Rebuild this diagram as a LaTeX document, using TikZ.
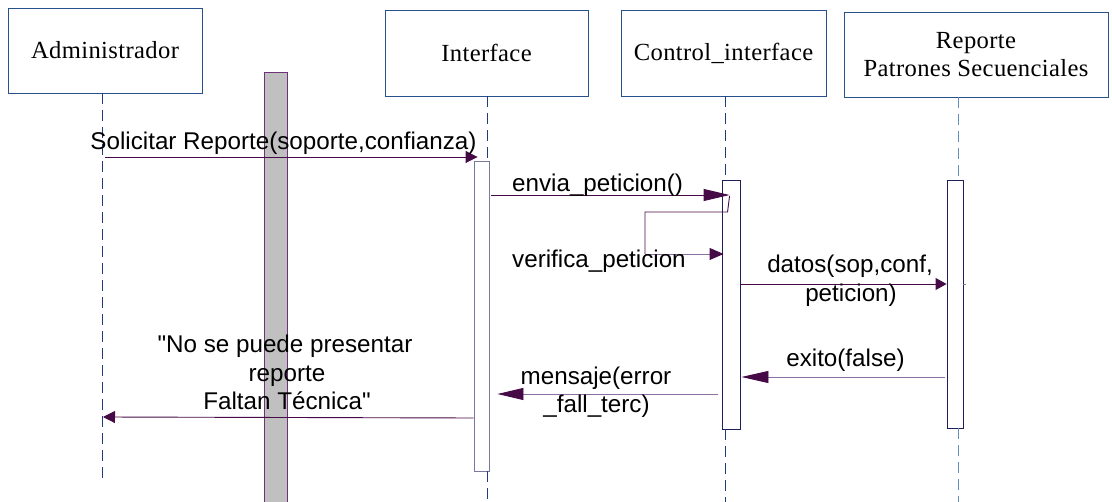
\documentclass[tikz,border=0pt]{standalone}
\usepackage{fontspec}
\setmainfont{Liberation Serif}[LetterSpace=1.5]
\setsansfont{Liberation Sans}[Ligatures=TeXOff]
\usetikzlibrary{arrows.meta,calc}
\definecolor{boxblue}{RGB}{40,80,140}
\definecolor{lifeblue}{RGB}{30,60,120}
\definecolor{lifelight}{RGB}{100,140,190}
\definecolor{msg}{RGB}{70,10,70}
\definecolor{msglight}{RGB}{140,110,160}
\definecolor{actA}{RGB}{120,120,160}
\definecolor{actB}{RGB}{30,30,90}
\definecolor{barfill}{RGB}{192,192,192}
\definecolor{barline}{RGB}{110,50,120}
\tikzset{
  obj/.style={draw=boxblue, line width=0.8pt, fill=white, inner sep=0pt,
    font=\fontsize{24.6}{28}\selectfont, align=center},
  act/.style={draw=#1, line width=0.9pt, fill=white, inner sep=0pt},
  life/.style={draw=lifeblue, line width=0.8pt, dash pattern=on 11pt off 6pt},
  msgline/.style={draw=#1, line width=0.9pt},
  msgline/.default=msg,
  lbl/.style={font=\sffamily\fontsize{24.2}{28}\selectfont, inner sep=0pt},
  grey bar/.style={draw=barline, fill=barfill, line width=0.8pt},
  head/.style={-{Triangle[length=#1, width=12pt, color=msg]}}
}
\begin{document}
\begin{tikzpicture}[x=1pt,y=-1pt]
\useasboundingbox (0,0) rectangle (1112,502);

% grey bar (background)
\draw[grey bar] (264,72) rectangle (287,504);

% object boxes
\node[obj, minimum width=194pt, minimum height=85pt] (adm) at (105,50.5) {Administrador};
\node[obj, minimum width=203pt, minimum height=86pt] (ifc) at (486.5,53) {Interface};
\node[obj, minimum width=205pt, minimum height=86pt] (ctl) at (723.5,53) {Control\_interface};
\node[obj, minimum width=264pt, minimum height=85pt] (rep) at (976,54.5) {Reporte\\Patrones Secuenciales};

% lifeline x positions
\coordinate (admx) at (102,0);
\coordinate (ifcx) at (487,0);
\coordinate (ctlx) at (725.5,0);
\coordinate (repx) at (958,0);

% activation boxes
\node[act=actA, minimum width=15pt, minimum height=310pt] (ia) at (481.5,316) {};
\node[act=actB, minimum width=18pt, minimum height=249pt] (ca) at (731,304.5) {};
\node[act=actB, minimum width=16pt, minimum height=248pt] (ra) at (955,304) {};

% lifelines
\draw[life] (adm.south -| admx) -- (admx |- 0,483);
\draw[life] (ifc.south -| ifcx) -- (ia.north -| ifcx);
\draw[life] (ia.south -| ifcx) -- (ifcx |- 0,504);
\draw[life] (ctl.south -| ctlx) -- (ca.north -| ctlx);
\draw[life] (ca.south -| ctlx) -- (ctlx |- 0,504);
\draw[life, draw=lifelight] (rep.south -| repx) -- (ra.north -| repx);
\draw[life, draw=lifelight] (ra.south -| repx) -- (repx |- 0,504);

% messages
\draw[msgline, head=12pt] ($(admx |- 0,157)+(3,0)$) -- ($(ia.west |- 0,157)+(4,0)$);
\node[lbl, anchor=base] (m1) at (283.5,150) {Solicitar Reporte(soporte,confianza)};

\draw[msgline, head=26pt] ($(ia.east |- 0,195)+(2,0)$) -- ($(ca.west |- 0,195)+(8,0)$);
\node[lbl, anchor=base west] (m2) at (512,192) {envia\_peticion()};

\draw[msgline=msg] ($(ca.west |- 0,196)+(8,0)$) -- ($(ca.west |- 0,212)+(6,0)$) -- (645,212)
  -- (645,254);
\draw[msgline=msglight, head=14pt] (645,254) -- ($(ca.west |- 0,254)+(2,0)$);
\node[lbl, anchor=base west] (m3) at (512,268) {verifica\_peticion};

\draw[msgline, head=11pt] (ca.east |- 0,284) -- (ra.west |- 0,284);
\draw[msgline=msglight] (ra.east |- 0,284) -- ($(ra.east |- 0,284)+(3,0)$);
\node[lbl, anchor=base] (m4a) at (850,273) {datos(sop,conf,};
\node[lbl, anchor=base] (m4b) at (851,302) {peticion)};

\draw[msgline=msglight, head=27pt] ($(ra.west |- 0,377)+(-2,0)$) -- ($(ca.east |- 0,377)+(1,0)$);
\node[lbl, anchor=base] (m5) at (845.5,367) {exito(false)};

\draw[msgline=msglight, head=26pt] ($(ca.west |- 0,394)+(-4,0)$) -- ($(ia.east |- 0,394)+(8,0)$);
\node[lbl, anchor=base] (m6a) at (596,385) {mensaje(error};
\node[lbl, anchor=base] (m6b) at (596.5,413) {\_fall\_terc)};

\draw[msgline, head=12pt] (ia.west |- 0,418) -- ($(admx |- 0,417)+(1,0)$);
\node[lbl, anchor=base] (m7a) at (285,353) {"No se puede presentar};
\node[lbl, anchor=base] (m7b) at (287,382) {reporte};
\node[lbl, anchor=base] (m7c) at (287,410) {Faltan Técnica"};
\end{tikzpicture}
\end{document}
